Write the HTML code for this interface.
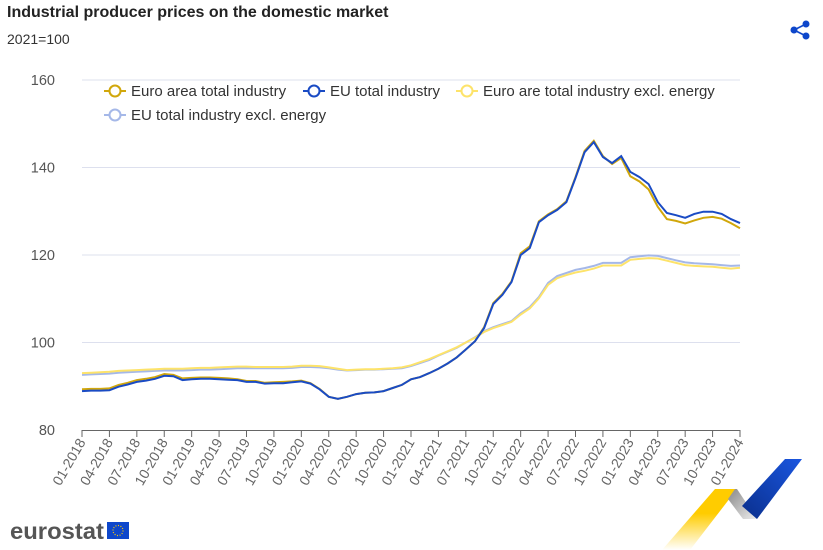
<!DOCTYPE html>
<html><head><meta charset="utf-8"><style>
body{margin:0;width:823px;height:550px;background:#fff;font-family:"Liberation Sans",sans-serif;overflow:hidden;position:relative}
.t{position:absolute;left:7px;top:4px;font-size:16px;font-weight:bold;color:#222}
.s{position:absolute;left:7px;top:31px;font-size:14px;color:#333}
</style></head><body>
<div class="t">Industrial producer prices on the domestic market</div>
<div class="s">2021=100</div>
<svg width="823" height="550" style="position:absolute;left:0;top:0" id="svg">
<g id="share" fill="#0e47cb" stroke="#0e47cb">
<circle cx="806" cy="24" r="3"/><circle cx="794" cy="30" r="3"/><circle cx="806" cy="36" r="3"/>
<line x1="806" y1="24" x2="794" y2="30" stroke-width="1.6"/><line x1="794" y1="30" x2="806" y2="36" stroke-width="1.6"/></g>
<g id="grid"></g><g id="axes"></g><g id="lines"></g><g id="legend"></g>
<g>
<text x="10" y="539" font-size="23" font-weight="bold" fill="#555" textLength="94" lengthAdjust="spacingAndGlyphs">eurostat</text>
<rect x="107" y="522" width="22" height="17" fill="#0e47cb"/><circle cx="118" cy="530.5" r="5" fill="none" stroke="#fc0" stroke-width="1.2" stroke-dasharray="1 1.6"/></g>
<g>
<defs><linearGradient id="yg" x1="0" y1="1" x2="0" y2="0"><stop offset="0" stop-color="#fff"/><stop offset="0.6" stop-color="#fc0"/></linearGradient>
<linearGradient id="gg" x1="0" y1="0" x2="1" y2="1"><stop offset="0" stop-color="#888"/><stop offset="1" stop-color="#eee"/></linearGradient>
<linearGradient id="bg" x1="0" y1="1" x2="1" y2="0"><stop offset="0" stop-color="#0a2f8c"/><stop offset="1" stop-color="#1a56e0"/></linearGradient></defs>
<polygon points="715,489 737,489 690,550 662,550" fill="url(#yg)"/>
<polygon points="735,489 737,489 757,519 743,519 728,499" fill="url(#gg)"/>
<polygon points="785,459 802,459 757,519 742,506" fill="url(#bg)"/>
</g>
</svg>
<script>
const months=[];for(let y=2018;y<=2024;y++)for(let m=1;m<=12;m++){if(y==2024&&m>1)break;months.push(String(m).padStart(2,'0')+'-'+y);}
const yTicks=[80,100,120,140,160];
const euTotal=[88.9,89,89,89.1,89.9,90.4,91,91.3,91.7,92.4,92.3,91.4,
91.6,91.7,91.7,91.6,91.5,91.4,91,91,90.6,90.7,90.7,90.9,
91.1,90.6,89.3,87.6,87.1,87.6,88.2,88.5,88.6,88.9,89.6,90.3,
91.6,92.1,93,94,95.2,96.6,98.4,100.3,103.3,108.8,110.9,113.8,
120,121.6,127.5,129.1,130.3,132.1,137.6,143.5,145.8,142.4,141,142.6,
139,137.8,136.2,132.1,129.6,129.1,128.5,129.4,129.9,129.9,129.4,128.2,127.3];
const eaTotal=[89.3,89.4,89.4,89.5,90.3,90.8,91.4,91.7,92.1,92.8,92.6,91.8,
91.9,92,92,91.9,91.8,91.6,91.2,91.2,90.8,90.9,91,91.1,
91.3,90.7,89.4,87.6,87.1,87.6,88.2,88.5,88.6,88.9,89.6,90.3,
91.6,92.1,93,94,95.2,96.6,98.4,100.3,103.5,109,111.1,114,
120.4,122,127.7,129.3,130.5,132.3,137.8,143.8,146.1,142.6,140.8,142.2,
138,136.8,135,131,128.2,127.8,127.2,127.9,128.5,128.7,128.3,127.3,126.1];
const euExcl=[92.6,92.7,92.8,92.9,93.1,93.2,93.3,93.4,93.5,93.6,93.6,93.6,
93.7,93.8,93.8,93.9,94,94.1,94.1,94.1,94.1,94.1,94.1,94.2,
94.4,94.4,94.3,94.1,93.8,93.6,93.7,93.8,93.8,93.9,94,94.1,
94.6,95.3,96,97,97.9,98.8,100,101.2,102.6,103.5,104.2,104.9,
106.7,108.1,110.4,113.6,115.2,115.9,116.6,117,117.5,118.2,118.2,118.2,
119.5,119.7,119.9,119.8,119.3,118.8,118.3,118.1,118,117.9,117.7,117.5,117.6];
const eaExcl=[93,93.1,93.2,93.3,93.5,93.6,93.7,93.8,93.9,94,94,94,
94.1,94.2,94.2,94.3,94.4,94.5,94.5,94.4,94.4,94.4,94.4,94.5,
94.7,94.7,94.6,94.3,94,93.7,93.8,93.9,93.9,94,94.1,94.3,
94.8,95.5,96.2,97.1,98,98.9,100,101.1,102.4,103.3,104,104.7,
106.4,107.8,110.1,113.2,114.7,115.4,116,116.4,116.9,117.6,117.6,117.6,
118.9,119.1,119.3,119.2,118.7,118.2,117.7,117.5,117.4,117.3,117.1,116.9,117.1];
const X=i=>82+i*(658/72), Y=v=>430-(v-80)*4.375;
const NS='http://www.w3.org/2000/svg';
function mk(t,a,p){const e=document.createElementNS(NS,t);for(const k in a)e.setAttribute(k,a[k]);p.appendChild(e);return e;}
const grid=document.getElementById('grid'),axes=document.getElementById('axes'),lines=document.getElementById('lines'),leg=document.getElementById('legend');
yTicks.forEach(v=>{
 if(v>80){const l=mk('line',{x1:82,x2:740,y1:Y(v),y2:Y(v),stroke:'#dde0ee','stroke-width':1},grid);
 
 }
 const t=mk('text',{x:55,y:Y(v)+5,'text-anchor':'end','font-size':14.5,fill:'#555'},axes);t.textContent=v;
 
 
});
const ax=mk('line',{x1:82,x2:740,y1:430.5,y2:430.5,stroke:'#666','stroke-width':1},axes);


months.forEach((m,i)=>{if(i%3)return;const x=X(i);
 mk('line',{x1:x,x2:x,y1:430,y2:437,stroke:'#666'},axes);
 const t=mk('text',{x:x+4,y:442,'text-anchor':'end','font-size':14,fill:'#666',transform:`rotate(-60 ${x+4} 442)`},axes);t.textContent=m;
 
 
});
const series=[['EU total industry excl. energy',euExcl,'#a5b8e8'],['Euro are total industry excl. energy',eaExcl,'#fde36a'],['Euro area total industry',eaTotal,'#d1a70b'],['EU total industry',euTotal,'#1a4bc4']];
series.forEach(s=>{const p=mk('path',{d:s[1].map((v,i)=>(i?'L':'M')+X(i).toFixed(1)+','+Y(v).toFixed(1)).join(''),fill:'none',stroke:s[2],'stroke-width':2},lines);
 
 });
const le=[['Euro area total industry','#d1a70b',104,91],['EU total industry','#1a4bc4',303,91],['Euro are total industry excl. energy','#fde36a',456,91],['EU total industry excl. energy','#a5b8e8',104,115]];
le.forEach(l=>{const g=mk('g',{},leg);
 
 
 mk('line',{x1:l[2],x2:l[2]+22,y1:l[3],y2:l[3],stroke:l[1],'stroke-width':2},g);
 mk('circle',{cx:l[2]+11,cy:l[3],r:5.5,fill:'#fff',stroke:l[1],'stroke-width':2},g);
 const t=mk('text',{x:l[2]+27,y:l[3]+5,'font-size':15,fill:'#333'},g);t.textContent=l[0];});
</script>
</body></html>
